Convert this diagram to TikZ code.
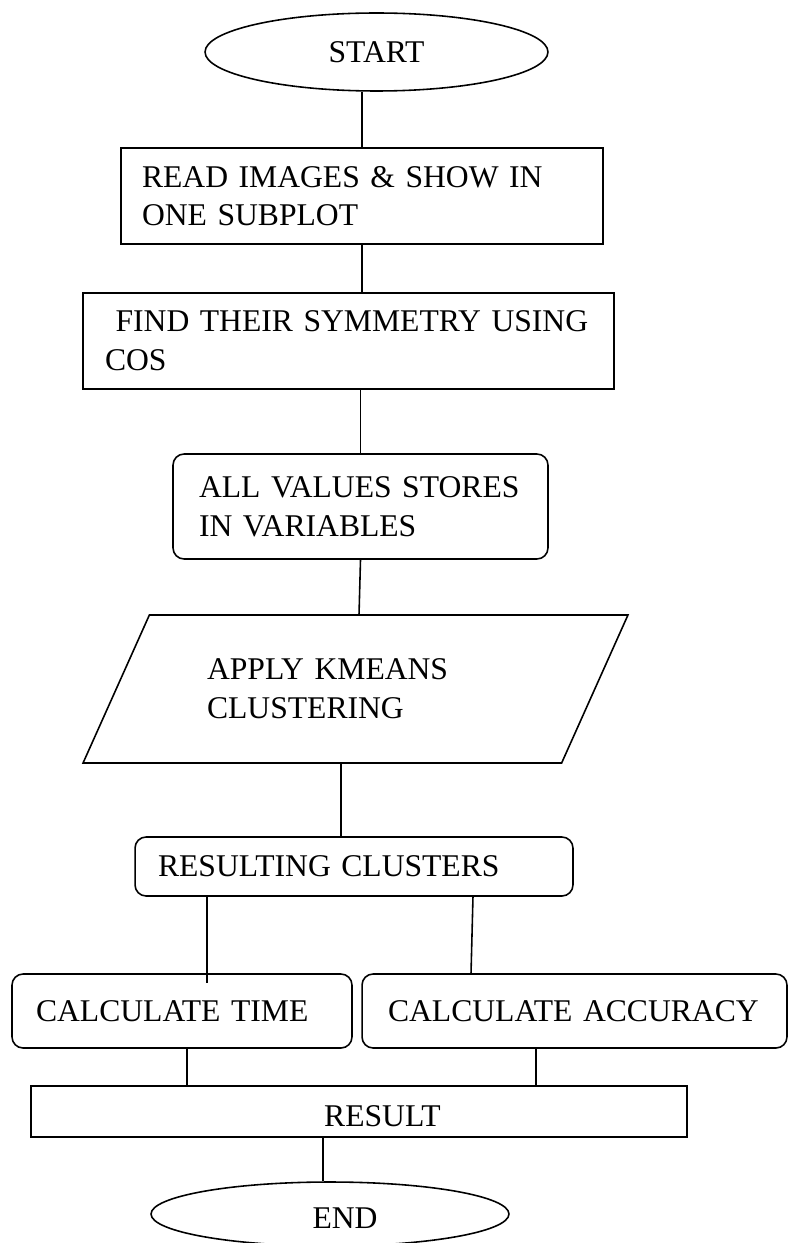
\documentclass[tikz,border=0pt]{standalone}
\usepackage{fontspec}
\setmainfont{Liberation Serif}
\usetikzlibrary{shapes.geometric}

\begin{document}
\begin{tikzpicture}[x=0.02cm,y=-0.02cm,
  font=\fontsize{18}{22}\selectfont,
  link/.style={line width=0.9pt},
  flowbox/.style={draw,line width=0.9pt,align=left,inner ysep=0pt},
  roundbox/.style={flowbox,rounded corners=0.22cm},
  terminal/.style={draw,ellipse,line width=0.9pt,inner sep=0pt},
  iobox/.style={draw,trapezium,trapezium left angle=47.2,trapezium right angle=132.8,
    trapezium stretches body,line width=0.9pt,align=left}]

\useasboundingbox (0,0) rectangle (789,1243);

% 1
\node[terminal,minimum width=6.86cm,minimum height=1.56cm] (StepStart) at (376.5,52) {START};

\node[flowbox,minimum width=9.64cm,minimum height=1.92cm,text width=8.8cm,inner xsep=0.42cm] (StepRead) at (362,196) {READ IMAGES \& SHOW IN\\ONE SUBPLOT};
\node[flowbox,minimum width=10.62cm,minimum height=1.92cm,text width=9.74cm,inner xsep=0.44cm] (StepSymmetry) at (348.5,341) {~FIND THEIR SYMMETRY USING\\COS};
\node[roundbox,minimum width=7.5cm,minimum height=2.1cm,text width=6.46cm,inner xsep=0.52cm] (StepStore) at (360.5,506.5) {ALL VALUES STORES\\IN VARIABLES};

% 2
\node[iobox,minimum width=10.9cm,minimum height=2.96cm,text width=5.94cm] (StepKmeans) at (355.5,689) {APPLY KMEANS\\CLUSTERING};

\node[roundbox,minimum width=8.76cm,minimum height=1.18cm,text width=7.84cm,inner xsep=0.46cm] (StepClusters) at (354,866.5) {RESULTING CLUSTERS};

\node[roundbox,minimum width=6.8cm,minimum height=1.48cm,text width=5.84cm,inner xsep=0.48cm] (StepTime) at (182,1011) {CALCULATE TIME};
\node[roundbox,minimum width=8.5cm,minimum height=1.48cm,text width=7.46cm,inner xsep=0.52cm] (StepAccuracy) at (574.5,1011) {CALCULATE ACCURACY};

% 3
\node[flowbox,minimum width=13.12cm,minimum height=1.02cm,text height=17pt] (StepResult) at (359,1111.5) {\hspace*{0.94cm}RESULT};
\node[terminal,minimum width=7.16cm,minimum height=1.28cm,text height=17pt] (StepEnd) at (330,1214) {\hspace*{0.6cm}END};


\draw[link] ([xshift=-0.29cm]StepStart.south) -- ([xshift=-0.29cm]StepStart.south |- StepRead.north);
\draw[link] (StepRead.south) -- (StepRead.south |- StepSymmetry.north);
\draw[link] (StepStore.north |- StepSymmetry.south) -- (StepStore.north);
\draw[link] (StepStore.south) -- ([xshift=0.07cm]StepKmeans.north);
\draw[link] ([xshift=-0.26cm]StepClusters.north |- StepKmeans.south) -- ([xshift=-0.26cm]StepClusters.north);

\draw[link] ([xshift=0.5cm]StepTime.north |- StepClusters.south) -- ([xshift=0.5cm,yshift=-0.2cm]StepTime.north);
\draw[link] ([xshift=2.38cm]StepClusters.south) -- ([xshift=-2.07cm]StepAccuracy.north);

\draw[link] ([xshift=0.1cm]StepTime.south) -- ([xshift=0.1cm]StepTime.south |- StepResult.north);
\draw[link] ([xshift=-0.77cm]StepAccuracy.south) -- ([xshift=-0.77cm]StepAccuracy.south |- StepResult.north);
\draw[link] ([xshift=-0.14cm]StepEnd.north |- StepResult.south) -- ([xshift=-0.14cm]StepEnd.north);

\end{tikzpicture}
\end{document}
